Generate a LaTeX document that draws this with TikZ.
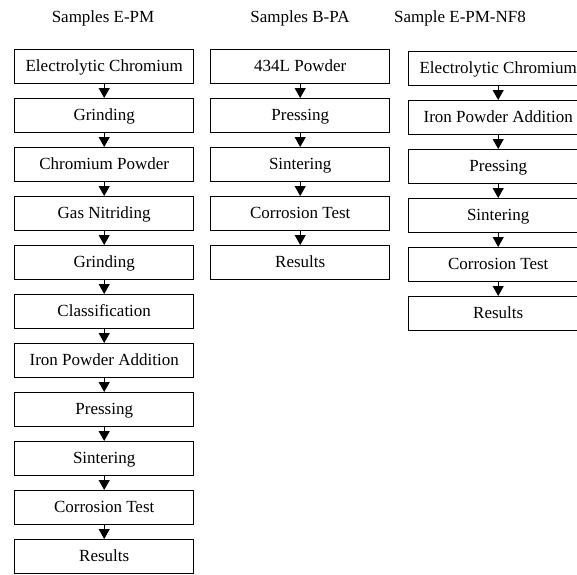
\documentclass[tikz,border=0pt]{standalone}
\usepackage{fontspec}
\setmainfont{Liberation Serif}
\usetikzlibrary{arrows.meta}
\begin{document}
\begin{tikzpicture}[x=1pt,y=-1pt,
  stepbox/.style={draw=black, line width=1.4pt, minimum width=179pt, minimum height=34pt,
    inner sep=0pt, anchor=north west, text height=12pt, text depth=1.5pt,
    font=\fontsize{17}{19}\selectfont},
  title/.style={font=\fontsize{17}{19}\selectfont, anchor=center},
  flow/.style={draw=black, line width=1pt, -{Triangle[width=11pt,length=10pt]}}
]
\clip (0,0) rectangle (577,574);
\fill[white] (0,0) rectangle (577,574);

% column titles
\node[title] (t1) at (103,18) {Samples E-PM};
\node[title] (t2) at (300,18) {Samples B-PA};
\node[title] (t3) at (460,18) {Sample E-PM-NF8};

% Samples E-PM
\foreach \k/\txt in {0/Electrolytic Chromium,1/Grinding,2/Chromium Powder,3/Gas Nitriding,
  4/Grinding,5/Classification,6/Iron Powder Addition,7/Pressing,8/Sintering,
  9/Corrosion Test,10/Results}
  \node[stepbox] (a\k) at (14,{49+49*\k}) {\txt};
\foreach \i [count=\j] in {0,...,9}
  \draw[flow] (a\i.south) -- (a\j.north);

% Samples B-PA
\foreach \k/\txt in {0/434L Powder,1/Pressing,2/Sintering,3/Corrosion Test,4/Results}
  \node[stepbox] (b\k) at (210,{49+49*\k}) {\txt};
\foreach \i [count=\j] in {0,...,3}
  \draw[flow] (b\i.south) -- (b\j.north);

% Sample E-PM-NF8
\foreach \k/\txt in {0/Electrolytic Chromium,1/Iron Powder Addition,2/Pressing,3/Sintering,
  4/Corrosion Test,5/Results}
  \node[stepbox] (c\k) at (408,{51+49*\k}) {\txt};
\foreach \i [count=\j] in {0,...,4}
  \draw[flow] (c\i.south) -- (c\j.north);
\end{tikzpicture}
\end{document}
